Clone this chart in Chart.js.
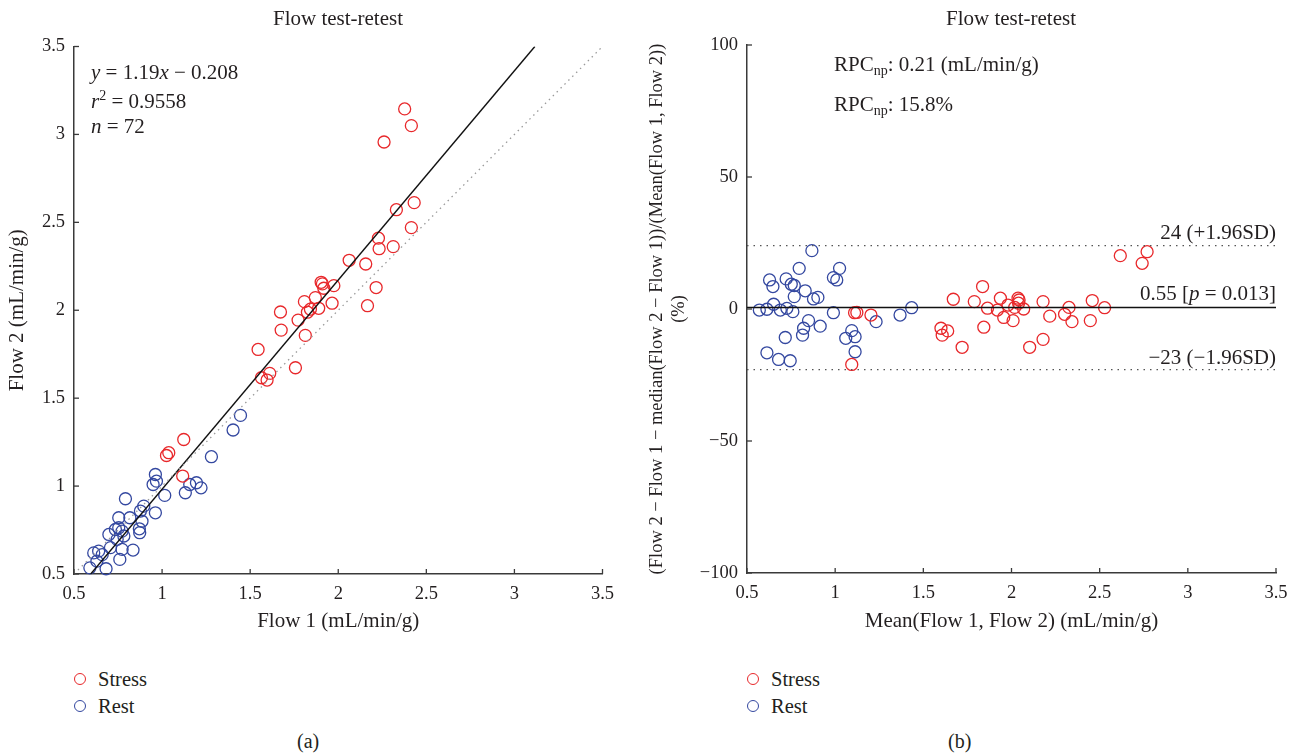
<!DOCTYPE html>
<html>
<head>
<meta charset="utf-8">
<script src="https://cdn.jsdelivr.net/npm/chart.js@4/dist/chart.umd.min.js"></script>
<style>
  body { margin: 0; background: #fff; }
  #wrap { position: relative; width: 1301px; height: 754px; font-family: "Liberation Serif", serif; font-size: 21px; color: #231f20; }
  .c { position: absolute; top: 0; }
  .t { position: absolute; line-height: 24px; white-space: nowrap; }
  .r { text-align: right; }
  .ttl { width: 200px; text-align: center; font-size: 21px; }
  .dot { position: absolute; width: 10px; height: 10px; border-radius: 50%; border: 1.4px solid; }
  sub { font-size: 14px; vertical-align: -4px; line-height: 0; }
  sup { font-size: 14px; vertical-align: 8px; line-height: 0; }
</style>
</head>
<body>
<div id="wrap">
  <div class="c" style="left:0;width:650px;height:640px"><canvas id="flowScatter"></canvas></div>
  <div class="c" style="left:620px;width:681px;height:640px"><canvas id="flowBland"></canvas></div>

  <div class="t ttl" style="left:238px;top:6px">Flow test-retest</div>
  <div class="t ttl" style="left:911px;top:6px">Flow test-retest</div>

  <div class="t" style="left:91px;top:60px"><i>y</i> = 1.19<i>x</i> − 0.208</div>
  <div class="t" style="left:91px;top:89px"><i>r</i><sup>2</sup> = 0.9558</div>
  <div class="t" style="left:91px;top:114px"><i>n</i> = 72</div>

  <div class="t" style="left:834px;top:52px">RPC<sub>np</sub>: 0.21 (mL/min/g)</div>
  <div class="t" style="left:834px;top:92px">RPC<sub>np</sub>: 15.8%</div>

  <div class="t r" style="right:25px;top:220px">24 (+1.96SD)</div>
  <div class="t r" style="right:25px;top:281px">0.55 [<i>p</i> = 0.013]</div>
  <div class="t r" style="right:25px;top:345px">−23 (−1.96SD)</div>

  <span class="dot" style="left:74px;top:673px;border-color:#e8282b"></span>
  <div class="t" style="left:98px;top:667px;font-size:20.5px">Stress</div>
  <span class="dot" style="left:74px;top:700px;border-color:#3448a0"></span>
  <div class="t" style="left:98px;top:694px;font-size:20.5px">Rest</div>

  <span class="dot" style="left:747px;top:673px;border-color:#e8282b"></span>
  <div class="t" style="left:771px;top:667px;font-size:20.5px">Stress</div>
  <span class="dot" style="left:747px;top:700px;border-color:#3448a0"></span>
  <div class="t" style="left:771px;top:694px;font-size:20.5px">Rest</div>

  <div class="t" style="left:297px;top:729px;font-size:20px">(a)</div>
  <div class="t" style="left:948px;top:729px;font-size:20px">(b)</div>
</div>
<script>
// left panel: Flow 1 vs Flow 2
const stressFlow1 = [1.025, 1.038, 1.123, 1.117, 1.545, 1.564, 1.596, 1.611, 1.757, 1.672, 1.676, 1.772, 1.813,
  2.377, 2.415, 2.26, 2.431, 2.33, 2.415, 2.228, 2.232, 2.312, 2.062, 2.156, 2.215, 2.166,
  1.903, 1.91, 1.975, 1.918, 1.87, 1.808, 1.965, 1.889, 1.842, 1.825];
const stressFlow2 = [1.174, 1.19, 1.265, 1.057, 1.777, 1.616, 1.603, 1.641, 1.673, 1.99, 1.887, 1.944, 1.857,
  3.145, 3.05, 2.957, 2.612, 2.572, 2.47, 2.41, 2.35, 2.362, 2.284, 2.263, 2.129, 2.026,
  2.159, 2.15, 2.14, 2.125, 2.072, 2.049, 2.04, 2.011, 2.006, 1.989];
const restFlow1 = [0.59, 0.682, 0.612, 0.64, 0.66, 0.63, 0.707, 0.698, 0.735, 0.754, 0.754, 0.773,
  0.783, 0.745, 0.773, 0.76, 0.835, 0.792, 0.817, 0.877, 0.896, 0.886, 0.871, 0.873,
  0.962, 0.968, 0.949, 0.962, 1.015, 1.132, 1.157, 1.195, 1.221, 1.28, 1.403, 1.445];
const restFlow2 = [0.535, 0.53, 0.62, 0.63, 0.61, 0.573, 0.65, 0.725, 0.753, 0.82, 0.763, 0.744,
  0.716, 0.697, 0.64, 0.583, 0.636, 0.928, 0.82, 0.858, 0.886, 0.8, 0.757, 0.735,
  1.066, 1.028, 1.009, 0.848, 0.947, 0.962, 1.009, 1.019, 0.99, 1.167, 1.319, 1.402];
const fitLineX = [0.595, 3.116];      // y = 1.19x - 0.208
const fitLineY = [0.5, 3.5];
const identityX = [0.5, 3.5];
const identityY = [0.5, 3.5];
const flowTicks = [0.5, 1, 1.5, 2, 2.5, 3, 3.5];

// right panel: mean vs relative difference (%)
const stressMean = [1.094, 1.11, 1.123, 1.203, 1.6, 1.607, 1.638, 1.67, 1.72, 1.789, 1.836, 1.843,
  1.864, 1.92, 1.937, 1.956, 1.98, 2.009, 2.018, 2.037, 2.043, 2.04, 2.069, 2.103,
  2.179, 2.179, 2.217, 2.301, 2.326, 2.343, 2.447, 2.458, 2.528, 2.617, 2.741, 2.769];
const stressDiff = [-21, -1.4, -1.3, -2.3, -7.3, -9.9, -8.3, 3.7, -14.5, 2.8, 8.5, -6.9,
  0.3, -0.4, 4.1, -3.2, 1.5, -4.4, 0.6, 4.1, 3.4, 2.2, 0, -14.5,
  2.8, -11.5, -2.7, -2, 0.6, -4.8, -4.4, 3.2, 0.5, 20.2, 17.3, 21.7];
const restMean = [0.57, 0.613, 0.651, 0.628, 0.647, 0.613, 0.679, 0.745, 0.689, 0.726, 0.76, 0.722,
  0.751, 0.768, 0.768, 0.796, 0.83, 0.868, 0.877, 0.902, 0.717, 0.821, 0.815, 0.849,
  0.915, 0.99, 0.99, 1.009, 1.025, 1.094, 1.113, 1.06, 1.113, 1.232, 1.368, 1.434];
const restDiff = [-0.4, -0.1, 1.8, 11, 8.5, -16.6, -19.1, -19.6, -0.4, 0.25, -1, 11.4,
  9.4, 8.9, 4.7, 15.4, 6.9, 22.1, 3.8, 4.4, -10.8, -7.3, -9.9, -4.4,
  -6.5, -1.4, 11.9, 11, 15.4, -8.2, -10.5, -11.1, -16.2, -4.8, -2.3, 0.5];
const biasLevel = 0.55;
const upperLimit = 24;
const lowerLimit = -23;
const diffTicks = [-100, -50, 0, 50, 100];

const RED = "#e8282b";
const BLUE = "#3448a0";
const INK = "#231f20";
const TICK_FONT = { family: "Liberation Serif", size: 18.5 };
const TITLE_FONT = { family: "Liberation Serif", size: 21, lineHeight: 1.1 };

const pts = (xs, ys) => xs.map((x, i) => ({ x, y: ys[i] }));

function circles(label, xs, ys, color) {
  return {
    label, data: pts(xs, ys), showLine: false,
    pointStyle: "circle", pointRadius: 6, pointHoverRadius: 6,
    borderColor: color, backgroundColor: "rgba(0,0,0,0)", borderWidth: 1.3, clip: false
  };
}
function segment(xs, ys, color, dash, width) {
  return {
    data: pts(xs, ys), showLine: true, pointRadius: 0, borderColor: color,
    borderWidth: width, borderDash: dash, fill: false
  };
}

// small inward tick marks on both axes
const innerTicks = {
  id: "innerTicks",
  afterDraw(chart) {
    const { ctx, scales: { x, y } } = chart;
    ctx.save();
    ctx.strokeStyle = "#3a3a3a";
    ctx.lineWidth = 1.3;
    x.ticks.forEach(t => {
      const px = x.getPixelForValue(t.value);
      ctx.beginPath(); ctx.moveTo(px, y.bottom); ctx.lineTo(px, y.bottom - 5); ctx.stroke();
    });
    y.ticks.forEach(t => {
      const py = y.getPixelForValue(t.value);
      ctx.beginPath(); ctx.moveTo(x.left, py); ctx.lineTo(x.left + 5, py); ctx.stroke();
    });
    ctx.restore();
  }
};

function axis(min, max, tickList, title, width, height, titlePad, titleFont, fmt) {
  return {
    type: "linear", min, max,
    afterBuildTicks: s => { s.ticks = tickList.map(v => ({ value: v })); },
    afterFit: s => { if (width) s.width = width; if (height) s.height = height; },
    grid: { display: false, drawTicks: false },
    border: { display: true, color: "#3a3a3a", width: 1.5 },
    ticks: { color: INK, font: TICK_FONT, padding: 9, maxRotation: 0, callback: fmt },
    title: { display: true, text: title, color: INK, font: titleFont, padding: titlePad }
  };
}
const minus = v => (v < 0 ? "−" + Math.abs(v) : String(v));

new Chart(document.getElementById("flowScatter"), {
  type: "scatter",
  data: {
    datasets: [
      segment(identityX, identityY, "#9a9a9a", [1.5, 4], 1.3),
      segment(fitLineX, fitLineY, "#111", [], 1.4),
      circles("Stress", stressFlow1, stressFlow2, RED),
      circles("Rest", restFlow1, restFlow2, BLUE)
    ]
  },
  options: {
    responsive: true, maintainAspectRatio: false, animation: false,
    layout: { padding: { top: 46.5, right: 47.5, left: 0, bottom: 0 } },
    plugins: { legend: { display: false }, tooltip: { enabled: false } },
    scales: {
      x: axis(0.5, 3.5, flowTicks, "Flow 1 (mL/min/g)", 0, 66, { top: 0, bottom: 7 }, TITLE_FONT),
      y: axis(0.5, 3.5, flowTicks, "Flow 2 (mL/min/g)", 74, 0, { top: 6, bottom: 0 }, TITLE_FONT)
    }
  },
  plugins: [innerTicks]
});

new Chart(document.getElementById("flowBland"), {
  type: "scatter",
  data: {
    datasets: [
      segment(identityX, [upperLimit, upperLimit], "#555", [1.5, 5], 1.3),
      segment(identityX, [lowerLimit, lowerLimit], "#555", [1.5, 5], 1.3),
      segment(identityX, [biasLevel, biasLevel], "#111", [], 1.6),
      circles("Stress", stressMean, stressDiff, RED),
      circles("Rest", restMean, restDiff, BLUE)
    ]
  },
  options: {
    responsive: true, maintainAspectRatio: false, animation: false,
    layout: { padding: { top: 45, right: 25, left: 0, bottom: 0 } },
    plugins: { legend: { display: false }, tooltip: { enabled: false } },
    scales: {
      x: axis(0.5, 3.5, flowTicks, "Mean(Flow 1, Flow 2) (mL/min/g)", 0, 67, { top: 0, bottom: 7 }, TITLE_FONT),
      y: axis(-100, 100, diffTicks,
        ["(Flow 2 − Flow 1 − median(Flow 2 − Flow 1))/(Mean(Flow 1, Flow 2))", "(%)"],
        127, 0, { top: 26, bottom: 0 }, { family: "Liberation Serif", size: 18.5, lineHeight: 1.2 }, minus)
    }
  },
  plugins: [innerTicks]
});
</script>
</body>
</html>
